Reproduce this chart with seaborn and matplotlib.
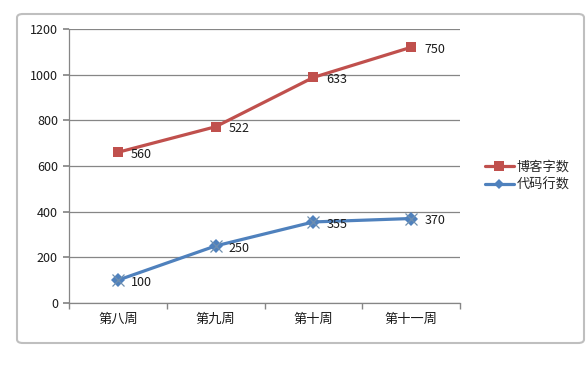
import matplotlib
matplotlib.use("Agg")
import matplotlib.pyplot as plt
from matplotlib.patches import FancyBboxPatch
from matplotlib.lines import Line2D
import seaborn as sns
import pandas as pd
import numpy as np

weeks = ["第八周", "第九周", "第十周", "第十一周"]
code_lines = [100, 250, 355, 370]
blog_words = [560, 522, 633, 750]
series_names = ["博客字数", "代码行数"]
y_ticks = [0, 200, 400, 600, 800, 1000, 1200]

sns.set_theme(style="white")
plt.rcParams['font.family'] = ['Noto Sans CJK SC', 'DejaVu Sans']

# stacked line chart: blog words plotted on top of code lines
blog_stacked = [c + b for c, b in zip(code_lines, blog_words)]
df = pd.DataFrame({
    "week": list(range(len(weeks))) * 2,
    "value": blog_stacked + code_lines,
    "label": blog_words + code_lines,
    "series": [series_names[0]] * len(weeks) + [series_names[1]] * len(weeks),
})

red = "#C0504D"
blue = "#4F81BD"

fig = plt.figure(figsize=(5.88, 3.66), dpi=100)
frame = FancyBboxPatch((17 / 588, 1 - 343 / 366), (584 - 17) / 588, (343 - 14) / 366,
                       boxstyle="round,pad=0,rounding_size=0.01",
                       transform=fig.transFigure, fill=False,
                       edgecolor="#BFBFBF", linewidth=1.5)
fig.patches.append(frame)

ax = fig.add_axes([69 / 588, 1 - 303 / 366, (460 - 69) / 588, (303 - 29) / 366])

sns.lineplot(data=df, x="week", y="value", hue="series", style="series",
             palette={series_names[0]: red, series_names[1]: blue},
             markers={series_names[0]: "s", series_names[1]: "D"},
             dashes=False, linewidth=2.3, markersize=7, markeredgewidth=0,
             ax=ax, legend=False)

# selection-handle look on blue points
for i, v in enumerate(code_lines):
    ax.plot([i], [v], marker="x", markersize=9, markeredgecolor="#6F8FAF",
            markeredgewidth=0.9, zorder=4)
    ax.plot([i], [v], marker="o", markersize=9, markerfacecolor="none",
            markeredgecolor="#6F8FAF", markeredgewidth=0.6, zorder=4, alpha=0.0)

for _, r in df.iterrows():
    ax.annotate(str(r["label"]), (r["week"], r["value"]), xytext=(9.5, -1.5),
                textcoords="offset points", fontsize=9, color="#1a1a1a",
                va="center", ha="left")

ax.set_xlim(-0.5, len(weeks) - 0.5)
ax.set_ylim(0, 1200)
ax.set_yticks(y_ticks)
ax.set_yticklabels([str(t) for t in y_ticks])
ax.set_xticks(range(len(weeks)))
ax.set_xticklabels(weeks)
ax.set_xticks(np.arange(-0.5, len(weeks), 1.0), minor=True)
ax.tick_params(axis="x", which="major", length=0, labelsize=9.5, pad=7, colors="#1a1a1a")
ax.tick_params(axis="x", which="minor", length=4, color="#868686", direction="out", bottom=True)
ax.tick_params(axis="y", length=4, color="#868686", direction="out", left=True,
               labelsize=9, pad=4, colors="#1a1a1a")
ax.set_xlabel("")
ax.set_ylabel("")
ax.grid(axis="y", color="#868686", linewidth=0.9)
ax.set_axisbelow(True)
for s in ["top", "right"]:
    ax.spines[s].set_visible(False)
for s in ["left", "bottom"]:
    ax.spines[s].set_color("#868686")
    ax.spines[s].set_linewidth(0.9)

handles = [Line2D([], [], color=red, marker="s", linewidth=2.3, markersize=7, markeredgewidth=0),
           Line2D([], [], color=blue, marker="D", linewidth=2.3, markersize=5, markeredgewidth=0)]
fig.legend(handles, series_names, loc="center left", bbox_to_anchor=(473 / 588, 1 - 176 / 366),
           frameon=False, fontsize=9.5, handlelength=2.2, handletextpad=0.2, labelspacing=0.4)

fig.savefig("out.png", dpi=100)
